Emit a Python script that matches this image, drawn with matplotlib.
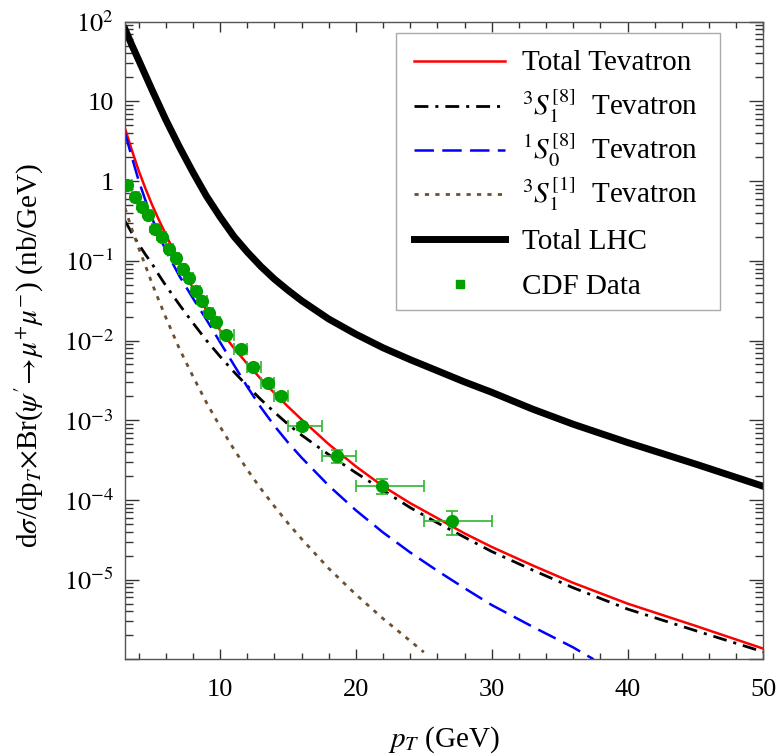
import math
import matplotlib
matplotlib.use("Agg")
import matplotlib.pyplot as plt
from matplotlib.lines import Line2D
from matplotlib.patches import Rectangle
from matplotlib.ticker import LogLocator, MultipleLocator, FuncFormatter, NullFormatter

plt.rcParams['font.family'] = ['Liberation Serif', 'DejaVu Serif']
plt.rcParams['mathtext.fontset'] = 'stix'
plt.rcParams['lines.scale_dashes'] = False

# Total LHC
pt_lhc = [3, 3.5, 4, 5, 6, 7, 8, 9, 10, 11, 12, 13, 14, 15, 16, 18, 20, 22, 24, 26, 28, 30, 33, 36, 40, 45, 50]
sig_lhc = [80.4, 51.0, 33.1, 13.8, 5.9, 2.69, 1.29, 0.646, 0.355, 0.204, 0.129, 0.0851, 0.0589, 0.0427,
           0.0316, 0.0186, 0.0120, 8.1e-3, 5.75e-3, 4.17e-3, 3.02e-3, 2.24e-3, 1.38e-3, 8.9e-4, 5.25e-4,
           2.82e-4, 1.48e-4]

# Tevatron curves
pt_tev = [3, 3.5, 4, 4.5, 5, 5.5, 6, 7, 8, 9, 10, 11, 12, 13, 14, 15, 16, 18, 20, 22, 24, 26, 28, 30,
          33, 36, 40, 45, 50]
sig_total = [4.57, 2.45, 1.36, 0.81, 0.50, 0.324, 0.214, 0.0955, 0.0457, 0.0240, 0.0135, 8.1e-3, 5.1e-3,
             3.3e-3, 2.19e-3, 1.48e-3, 1.02e-3, 5.0e-4, 2.63e-4, 1.48e-4, 9.1e-5, 5.9e-5, 3.8e-5, 2.57e-5,
             1.51e-5, 9.1e-6, 5.0e-6, 2.63e-6, 1.36e-6]
sig_3s18 = [0.316, 0.224, 0.162, 0.120, 0.0912, 0.066, 0.049, 0.0282, 0.0166, 0.0100, 6.3e-3, 4.07e-3,
            2.69e-3, 1.82e-3, 1.26e-3, 8.9e-4, 6.5e-4, 3.7e-4, 2.19e-4, 1.32e-4, 8.0e-5, 5.15e-5, 3.4e-5,
            2.25e-5, 1.32e-5, 7.9e-6, 4.27e-6, 2.29e-6, 1.24e-6]

pt_1s08 = [3, 3.5, 4, 4.5, 5, 5.5, 6, 7, 8, 9, 10, 11, 12, 13, 14, 15, 16, 18, 20, 22, 24, 26, 28, 30,
           33, 36, 37.5]
sig_1s08 = [3.98, 2.0, 1.02, 0.575, 0.339, 0.209, 0.135, 0.0646, 0.0339, 0.0182, 9.5e-3, 5.0e-3, 2.63e-3,
            1.45e-3, 8.5e-4, 5.25e-4, 3.39e-4, 1.51e-4, 7.4e-5, 3.9e-5, 2.19e-5, 1.29e-5, 7.8e-6, 4.8e-6,
            2.57e-6, 1.41e-6, 1.0e-6]

pt_3s11 = [3, 3.5, 4, 4.5, 5, 5.5, 6, 7, 8, 9, 10, 11, 12, 13, 14, 15, 16, 18, 20, 22, 24, 25]
sig_3s11 = [0.457, 0.251, 0.145, 0.087, 0.0513, 0.0316, 0.0195, 7.9e-3, 3.55e-3, 1.66e-3, 8.3e-4, 4.37e-4,
            2.4e-4, 1.38e-4, 8.3e-5, 5.1e-5, 3.24e-5, 1.38e-5, 6.5e-6, 3.24e-6, 1.7e-6, 1.23e-6]

# CDF data
cdf_pt = [3.15, 3.72, 4.22, 4.72, 5.22, 5.70, 6.22, 6.72, 7.25, 7.72, 8.20, 8.70, 9.20, 9.72,
          10.46, 11.52, 12.44, 13.50, 14.52, 16.05, 18.60, 21.95, 27.07]
cdf_lo = [3.0, 3.5, 4.0, 4.5, 5.0, 5.5, 6.0, 6.5, 7.0, 7.5, 8.0, 8.5, 9.0, 9.5,
          10, 11, 12, 13, 14, 15, 17.5, 20, 25]
cdf_hi = [3.5, 4.0, 4.5, 5.0, 5.5, 6.0, 6.5, 7.0, 7.5, 8.0, 8.5, 9.0, 9.5, 10.0,
          11, 12, 13, 14, 15, 17.5, 20, 25, 30]
cdf_val = [0.89, 0.64, 0.48, 0.38, 0.25, 0.197, 0.140, 0.110, 0.078, 0.061, 0.042, 0.031, 0.022, 0.0171,
           0.0118, 0.0078, 0.0046, 0.0029, 0.0020, 8.4e-4, 3.55e-4, 1.5e-4, 5.4e-5]
cdf_err = [0.06, 0.04, 0.03, 0.025, 0.017, 0.013, 0.009, 0.007, 0.005, 0.004, 0.003, 0.0022, 0.0016,
           0.0012, 0.0009, 0.0006, 0.0004, 0.00025, 0.00018, 8e-5, 6.6e-5, 3.1e-5, 1.8e-5]

labels = ['Total Tevatron', r'$^{3}S_{1}^{[8]}$  Tevatron', r'$^{1}S_{0}^{[8]}$  Tevatron',
          r'$^{3}S_{1}^{[1]}$  Tevatron', 'Total LHC', 'CDF Data']

# line styles: total, 3S1[8], 1S0[8], 3S1[1], LHC
styles = [
    dict(color='#ff0000', lw=1.8),
    dict(color='black', lw=2.0, dashes=(10, 5, 2.2, 5)),
    dict(color='#0000ff', lw=1.8, dashes=(14, 6)),
    dict(color='#6e5030', lw=2.0, dashes=(3, 4.5)),
    dict(color='black', lw=5.0),
]
green = '#00a000'

fig = plt.figure(figsize=(7.79, 7.56), dpi=100)
ax = fig.add_axes([0.1605, 0.1279, 0.8194, 0.8434])

ax.plot(pt_tev, sig_total, **styles[0])
ax.plot(pt_tev, sig_3s18, **styles[1])
ax.plot(pt_1s08, sig_1s08, **styles[2])
ax.plot(pt_3s11, sig_3s11, **styles[3])
ax.plot(pt_lhc, sig_lhc, **styles[4])

xerr = [[p - lo for p, lo in zip(cdf_pt, cdf_lo)], [hi - p for p, hi in zip(cdf_pt, cdf_hi)]]
ax.errorbar(cdf_pt, cdf_val, xerr=xerr, yerr=cdf_err, fmt='o', color=green, ms=8.5,
            ecolor='#2fb52f', elinewidth=1.2, capsize=4, capthick=1.2, zorder=3)


def ylab(v, pos):
    e = int(round(math.log10(v)))
    if e == 1:
        return '10'
    if e == 0:
        return '1'
    if e <= -6:
        return ''
    return r'$10^{%d}$' % e


ax.set_yscale('log')
ax.yaxis.set_major_locator(LogLocator(base=10, numticks=20))
ax.yaxis.set_minor_locator(LogLocator(base=10, subs=range(2, 10), numticks=20))
ax.yaxis.set_major_formatter(FuncFormatter(ylab))
ax.yaxis.set_minor_formatter(NullFormatter())
ax.xaxis.set_major_locator(MultipleLocator(10))
ax.xaxis.set_minor_locator(MultipleLocator(2))

ax.tick_params(axis='both', which='both', direction='in', top=True, right=True, color='#333333',
               labelsize=19)
ax.tick_params(axis='y', which='major', length=10, width=1.0, pad=8)
ax.tick_params(axis='y', which='minor', length=5.5, width=1.0)
ax.tick_params(axis='x', which='major', length=7, width=1.0, pad=14)
ax.tick_params(axis='x', which='minor', length=4.5, width=1.0)
for s in ax.spines.values():
    s.set_color('#555555')
    s.set_linewidth(1.0)

fig.text(0.570, 0.021, r'$p_T$ (GeV)', ha='center', va='center', fontsize=21)
fig.text(0.038, 0.53, r"d$\sigma$/dp$_T$$\times$Br($\psi'\!\rightarrow\!\mu^{+}\mu^{-}$) (nb/GeV)",
         ha='center', va='center', rotation=90, fontsize=21)

# legend box drawn in axes coordinates
lx0, lx1, ly0, ly1 = 0.4246, 0.932, 0.548, 0.9815
ax.add_patch(Rectangle((lx0, ly0), lx1 - lx0, ly1 - ly0, transform=ax.transAxes, facecolor='white',
                       edgecolor='#aaaaaa', lw=1.0, zorder=5))
rows = [0.939, 0.8678, 0.7988, 0.7298, 0.6592, 0.5886]
for i, (y, lab) in enumerate(zip(rows, labels)):
    if i < 5:
        ax.add_line(Line2D([0.4528, 0.5953], [y, y], transform=ax.transAxes, zorder=6, **styles[i]))
    else:
        ax.add_line(Line2D([0.524], [y], transform=ax.transAxes, zorder=6, marker='s', ms=5.4,
                           ls='none', color=green))
    ax.text(0.622, y - 0.0151, lab, transform=ax.transAxes, va='baseline', ha='left', fontsize=21,
            zorder=6)

ax.set_xlim(3, 50)
ax.set_ylim(1e-6, 100)

fig.savefig('out.png', dpi=100)
